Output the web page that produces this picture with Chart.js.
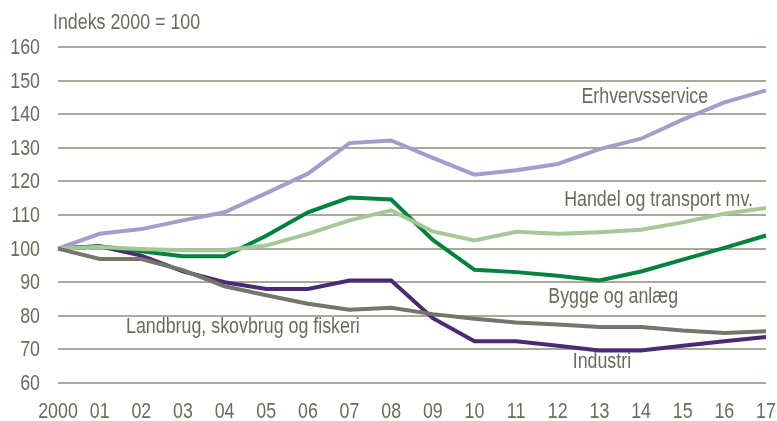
<!DOCTYPE html>
<html>
<head>
<meta charset="utf-8">
<script src="https://cdn.jsdelivr.net/npm/chart.js@4"></script>
<style>
html,body{margin:0;padding:0;background:#fff;}
#wrap{width:777px;height:421px;position:relative;}
</style>
</head>
<body>
<div id="wrap"><canvas id="c" width="777" height="421"></canvas></div>
<script>
const years = ['2000','01','02','03','04','05','06','07','08','09','10','11','12','13','14','15','16','17'];
const erhvervsservice = [100,104.4,105.8,108.4,110.8,116.5,122.3,131.4,132.2,127.0,122.0,123.3,125.2,129.6,132.7,138.4,143.5,147.1];
const handelTransport = [100,100.5,99.9,99.5,99.5,100.9,104.4,108.4,111.4,105.1,102.4,105.0,104.4,104.9,105.6,107.8,110.4,112.1];
const byggeAnlaeg = [100,100.7,99.2,97.7,97.7,103.8,110.8,115.2,114.6,102.6,93.7,93.0,91.9,90.5,93.2,96.7,100.2,103.9];
const industri = [100,100.7,97.9,93.2,90.0,88.0,88.0,90.5,90.5,79.3,72.4,72.4,71.1,69.7,69.7,71.1,72.4,73.7];
const landbrug = [100,96.9,96.9,93.6,88.8,86.1,83.6,81.8,82.4,80.5,79.1,78.0,77.4,76.7,76.7,75.6,74.9,75.4];
const yMin = 60, yMax = 160, yStep = 10;
const yTitle = 'Indeks 2000 = 100';
const seriesLabels = ['Erhvervsservice','Handel og transport mv.','Bygge og anlæg','Industri','Landbrug, skovbrug og fiskeri'];
// label anchors in data space: [x index, y value]
const labelAnchors = [[14.09,145.0],[14.42,114.5],[13.33,85.7],[13.06,66.3],[4.44,76.8]];

const FONT = '"Liberation Sans", Arial, sans-serif';
const FSIZE = 22;
const SQUEEZE = 0.81;
const TEXT = '#6b6b5c';
const colors = ['#a99bc9','#a6c898','#00843d','#4a2a72','#75756a'];

function narrowText(ctx, str, cx, cy, align){
  ctx.save();
  ctx.translate(cx, cy);
  ctx.scale(SQUEEZE, 1);
  ctx.textAlign = align;
  ctx.fillText(str, 0, 0);
  ctx.restore();
}

const annot = {
  id:'annot',
  afterDraw(chart){
    const {ctx, scales:{x,y}} = chart;
    ctx.save();
    ctx.font = FSIZE + 'px ' + FONT;
    ctx.fillStyle = TEXT;
    ctx.textBaseline = 'middle';
    // y tick labels
    y.ticks.forEach((t,i)=>{
      narrowText(ctx, String(t.value), 40, y.getPixelForTick(i)+1, 'right');
    });
    // x tick labels
    x.ticks.forEach((t,i)=>{
      narrowText(ctx, years[t.value], x.getPixelForTick(i), 412, 'center');
    });
    // series labels
    labelAnchors.forEach((a,i)=>{
      narrowText(ctx, seriesLabels[i], x.getPixelForValue(a[0]), y.getPixelForValue(a[1]), 'center');
    });
    narrowText(ctx, yTitle, 53, 23, 'left');
    ctx.restore();
  }
};

const mk = (label, data, color) => ({label, data, borderColor:color, backgroundColor:color, borderWidth:4, pointRadius:0, tension:0, fill:false});

new Chart(document.getElementById('c'), {
  type:'line',
  data:{labels:years, datasets:[
    mk(seriesLabels[4], landbrug, colors[4]),
    mk(seriesLabels[1], handelTransport, colors[1]),
    mk(seriesLabels[0], erhvervsservice, colors[0]),
    mk(seriesLabels[2], byggeAnlaeg, colors[2]),
    mk(seriesLabels[3], industri, colors[3])
  ]},
  options:{
    responsive:false, animation:false,
    layout:{padding:{top:47, right:11, left:0, bottom:0}},
    plugins:{legend:{display:false}, tooltip:{enabled:false}},
    scales:{
      x:{
        type:'category', offset:false,
        grid:{display:false, drawTicks:false},
        border:{display:false},
        ticks:{color:'rgba(0,0,0,0)', font:{size:12}, maxRotation:0, autoSkip:false},
        afterFit(s){ s.height = 38; }
      },
      y:{
        min:yMin, max:yMax,
        grid:{color:'#aaaa9b', lineWidth:2, drawTicks:false},
        border:{display:false},
        ticks:{stepSize:yStep, color:'rgba(0,0,0,0)', font:{size:12}},
        afterFit(s){ s.width = 58; }
      }
    }
  },
  plugins:[annot]
});
</script>
</body>
</html>
